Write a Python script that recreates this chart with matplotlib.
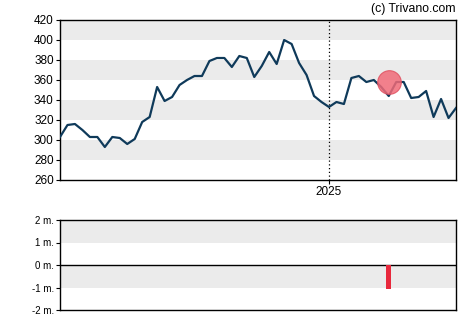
import numpy as np
import matplotlib.pyplot as plt

plt.rcParams['font.family'] = ['Liberation Sans', 'DejaVu Sans']

# weekly closing prices
prices = [303, 315, 316, 310, 303, 303, 293, 303, 302, 296,
          301, 318, 323, 353, 339, 343, 355, 360, 364, 364,
          379, 382, 382, 373, 384, 382, 363, 374, 388, 376,
          400, 396, 377, 365, 344, 338, 333, 338, 336, 362,
          364, 358, 360, 353, 344, 358, 358, 342, 343, 349,
          323, 341, 322, 332]
year_index = 36          # first week of 2025
year_label = '2025'
marker_index = 44
marker_value = 358
flow_index = 44
flow_value = -1.05       # millions

price_ticks = list(range(260, 421, 20))
flow_ticks = [-2, -1, 0, 1, 2]
flow_labels = ['-2 m.', '-1 m.', '0 m.', '1 m.', '2 m.']

x = np.arange(len(prices))
band = '#ebebeb'
line_col = '#0f3a5a'

fig = plt.figure(figsize=(4.7, 3.25), dpi=100)
W, H = 470, 325
ax = fig.add_axes([60 / W, 1 - 180 / H, 396 / W, 160 / H])
ax2 = fig.add_axes([60 / W, 1 - 310 / H, 396 / W, 90 / H])

# price panel
for lo in range(280, 420, 40):
    ax.axhspan(lo, lo + 20, color=band, lw=0, zorder=0)
ax.plot(x, prices, color=line_col, lw=1.6, zorder=3)
ax.plot(marker_index, marker_value, 'o', ms=17, color='#f06a78',
        alpha=0.85, mec='#e05060', mew=0.8, zorder=4)
ax.axvline(year_index, color='black', ls=(0, (1, 2)), lw=0.9, zorder=2)
ax.set_xlim(0, len(prices) - 1)
ax.set_ylim(260, 420)
ax.set_yticks(price_ticks)
ax.set_xticks([year_index])
ax.set_xticklabels([year_label])
ax.tick_params(labelsize=8.5, length=3, width=0.8, pad=1.5)
ax.text(1.0, 1.03, '(c) Trivano.com', transform=ax.transAxes,
        ha='right', va='bottom', fontsize=8.8)

# flow panel
for lo in (-1, 1):
    ax2.axhspan(lo, lo + 1, color=band, lw=0, zorder=0)
ax2.axhline(0, color='black', lw=1, zorder=2)
ax2.bar(flow_index, flow_value, width=0.7, color='#e8283c', zorder=3)
ax2.set_xlim(0, len(prices) - 1)
ax2.set_ylim(-2, 2)
ax2.set_yticks(flow_ticks)
ax2.set_yticklabels(flow_labels)
ax2.set_xticks([])
ax2.tick_params(labelsize=7, length=3, width=0.8, pad=1.5)

for a in (ax, ax2):
    for s in a.spines.values():
        s.set_linewidth(1)

fig.savefig('out.png', dpi=100)
